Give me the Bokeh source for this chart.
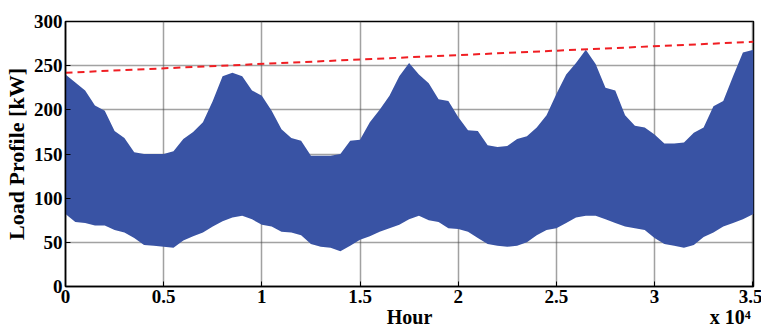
from bokeh.plotting import figure
from bokeh.models import Range1d, FixedTicker, LinearAxis
from bokeh.embed import file_html
from bokeh.resources import INLINE

# ---- data ----
hours = [0, 500, 1000, 1500, 2000, 2500, 3000, 3500, 4000, 4500, 5000, 5500,
         6000, 6500, 7000, 7500, 8000, 8500, 9000, 9500, 10000, 10500, 11000,
         11500, 12000, 12500, 13000, 13500, 14000, 14500, 15000, 15500, 16000,
         16500, 17000, 17500, 18000, 18500, 19000, 19500, 20000, 20500, 21000,
         21500, 22000, 22500, 23000, 23500, 24000, 24500, 25000, 25500, 26000,
         26500, 27000, 27500, 28000, 28500, 29000, 29500, 30000, 30500, 31000,
         31500, 32000, 32500, 33000, 33500, 34000, 34500, 35040]
load_upper = [240, 231, 222, 205, 199, 176, 168, 152, 150, 150, 150, 153,
              167, 175, 186, 210, 238, 242, 238, 222, 216, 199, 178,
              168, 165, 148, 148, 148, 150, 165, 166, 186, 200,
              216, 238, 253, 240, 230, 212, 210, 192, 177, 176,
              160, 158, 159, 167, 170, 180, 194, 218, 240, 253,
              268, 252, 225, 222, 194, 182, 180, 172, 162, 162,
              163, 174, 180, 204, 210, 238, 265, 268]
load_lower = [82, 73, 72, 69, 69, 64, 61, 55, 47, 46, 45, 44,
              52, 57, 61, 68, 74, 78, 80, 76, 70, 68, 62,
              61, 58, 48, 45, 44, 40, 46, 53, 57, 62,
              66, 70, 76, 80, 75, 73, 66, 65, 62, 55,
              48, 46, 45, 46, 50, 58, 64, 66, 72, 78,
              80, 80, 76, 72, 68, 66, 64, 55, 48, 46,
              44, 47, 56, 61, 68, 72, 76, 82]
trend_x = [0, 35040]
trend_y = [242, 277]

x_ticks = [0, 5000, 10000, 15000, 20000, 25000, 30000, 35000]
x_tick_labels = ["0", "0.5", "1", "1.5", "2", "2.5", "3", "3.5"]
y_ticks = [0, 50, 100, 150, 200, 250, 300]
x_title = "Hour"
x_scale_note = "x 10\u2074"

FONT = "Liberation Serif"

p = figure(width=761, height=335, output_backend="svg", toolbar_location=None,
           x_range=Range1d(0, 35040), y_range=Range1d(0, 300),
           frame_width=688, frame_height=265,
           min_border_left=64, min_border_right=9, min_border_top=21, min_border_bottom=49)

p.varea(x=hours, y1=load_lower, y2=load_upper, fill_color="#3953A4", fill_alpha=1.0)
p.line(trend_x, trend_y, line_color="#F01E23", line_width=2, line_dash="7 5")

p.xaxis.ticker = FixedTicker(ticks=x_ticks)
p.xaxis.major_label_overrides = {t: l for t, l in zip(x_ticks, x_tick_labels)}
p.yaxis.ticker = FixedTicker(ticks=y_ticks)

for ax in (p.xaxis[0], p.yaxis[0]):
    ax.major_label_text_font = FONT
    ax.major_label_text_font_style = "bold"
    ax.major_label_text_font_size = "19px"
    ax.major_label_text_color = "black"
    ax.axis_label_text_font = FONT
    ax.axis_label_text_font_style = "bold"
    ax.axis_label_text_font_size = "22px"
    ax.axis_label_text_color = "black"
    ax.major_tick_in = 5
    ax.major_tick_out = 0
    ax.minor_tick_in = 0
    ax.minor_tick_out = 0
    ax.axis_line_color = "black"
    ax.axis_line_width = 1.5
    ax.major_tick_line_color = "black"
    ax.major_label_standoff = 3
    ax.axis_label_standoff = 2

p.yaxis.axis_label = "Load Profile [kW]"

# second row below the tick labels: axis title and the scale note
note_axis = LinearAxis(ticker=FixedTicker(ticks=[17520, 33850]),
                       major_label_overrides={17520: x_title, 33850: x_scale_note})
note_axis.major_label_text_font = FONT
note_axis.major_label_text_font_style = "bold"
note_axis.major_label_text_font_size = "20px"
note_axis.major_label_text_color = "black"
note_axis.axis_line_color = None
note_axis.major_tick_line_color = None
note_axis.minor_tick_line_color = None
note_axis.major_tick_in = 0
note_axis.major_tick_out = 0
note_axis.minor_tick_in = 0
note_axis.minor_tick_out = 0
note_axis.major_label_standoff = 0
p.add_layout(note_axis, "below")

p.grid.grid_line_color = "#444444"
p.grid.grid_line_alpha = 1.0
p.grid.grid_line_dash = "1 1"
p.grid.grid_line_width = 1.5

p.outline_line_color = "black"
p.outline_line_width = 1.5
p.outline_line_alpha = 1.0

open("out.html", "w").write(file_html(p, INLINE))
